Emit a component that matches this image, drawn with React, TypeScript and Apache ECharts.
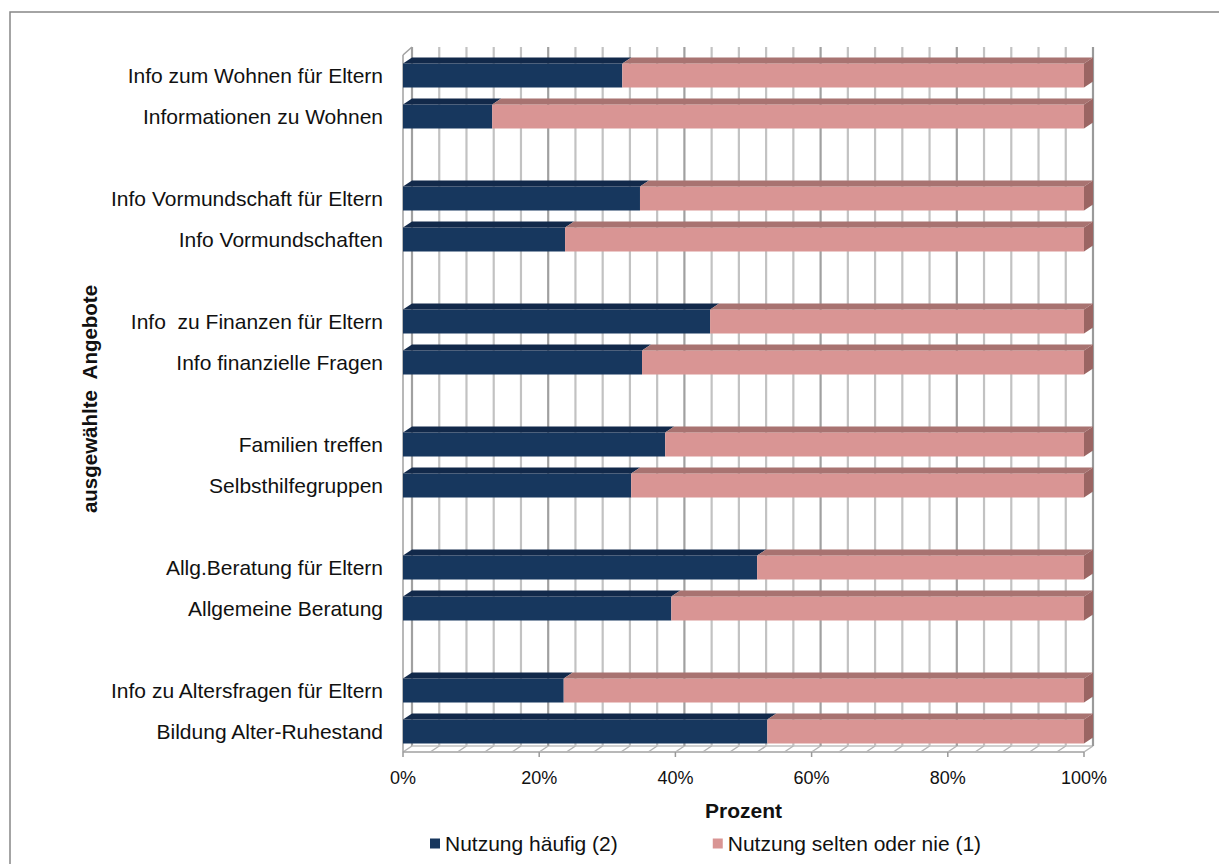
import React, { useEffect, useRef } from "react";
import * as echarts from "echarts";

// ---- data (top to bottom; "" = gap row) ----
const CATEGORIES: string[] = [
  "Info zum Wohnen für Eltern",
  "Informationen zu Wohnen",
  "",
  "Info Vormundschaft für Eltern",
  "Info Vormundschaften",
  "",
  "Info  zu Finanzen für Eltern",
  "Info finanzielle Fragen",
  "",
  "Familien treffen",
  "Selbsthilfegruppen",
  "",
  "Allg.Beratung für Eltern",
  "Allgemeine Beratung",
  "",
  "Info zu Altersfragen für Eltern",
  "Bildung Alter-Ruhestand",
];
const FREQUENT: (number | null)[] = [
  32.2, 13.1, null, 34.8, 23.8, null, 45.1, 35.1, null, 38.5, 33.5, null, 52.0, 39.4, null, 23.6, 53.5,
];
const RARE: (number | null)[] = [
  67.8, 86.9, null, 65.2, 76.2, null, 54.9, 64.9, null, 61.5, 66.5, null, 48.0, 60.6, null, 76.4, 46.5,
];
const TICKS: number[] = [0, 4, 8, 12, 16, 20, 24, 28, 32, 36, 40, 44, 48, 52, 56, 60, 64, 68, 72, 76, 80, 84, 88, 92, 96, 100];
const SERIES_NAMES = ["Nutzung häufig (2)", "Nutzung selten oder nie (1)"];
const X_TITLE = "Prozent";
const Y_TITLE = "ausgewählte  Angebote";

// ---- style ----
const FONT = "'Liberation Sans', Arial, sans-serif";
const NAVY = "#17375E";
const NAVY_TOP = "#12294A";
const PINK = "#D99594";
const PINK_TOP = "#A87371";
const PINK_SIDE = "#9B6563";
const DX = 9;
const DY = 6;
const BAR_H = 24;

export default function App() {
  const ref = useRef<HTMLDivElement>(null);
  useEffect(() => {
    if (!ref.current) return;
    const chart = echarts.init(ref.current, undefined, { renderer: "svg" });

    const faceData: any[] = [];
    CATEGORIES.forEach((_, i) => {
      if (FREQUENT[i] != null && RARE[i] != null) faceData.push([FREQUENT[i], i, RARE[i]]);
    });

    const option: any = {
      animation: false,
      backgroundColor: "#fff",
      textStyle: { fontFamily: FONT },
      grid: { left: 403, right: 135, top: 55, bottom: 112, containLabel: false },
      legend: {
        data: SERIES_NAMES,
        left: 425,
        top: 828,
        icon: "rect",
        itemWidth: 10,
        itemHeight: 10,
        itemGap: 95,
        textStyle: { fontSize: 21, color: "#111", fontFamily: FONT },
      },
      xAxis: {
        type: "value",
        min: 0,
        max: 100,
        interval: 4,
        splitLine: { show: false },
        axisLine: { show: false },
        axisTick: { show: false },
        axisLabel: {
          formatter: (v: number) => (v % 20 === 0 ? v + "%" : ""),
          fontSize: 18,
          color: "#111",
          margin: 17,
          fontFamily: FONT,
        },
        name: X_TITLE,
        nameLocation: "middle",
        nameGap: 48,
        nameTextStyle: { fontSize: 21, fontWeight: "bold", color: "#111", fontFamily: FONT },
      },
      yAxis: {
        type: "category",
        data: CATEGORIES,
        inverse: true,
        axisLine: { show: false },
        axisTick: { show: false },
        splitLine: { show: false },
        axisLabel: { fontSize: 21, color: "#111", margin: 20, fontFamily: FONT },
      },
      graphic: [
        {
          type: "rect",
          shape: { x: 10, y: 12, width: 1230, height: 900 },
          style: { fill: "none", stroke: "#878787", lineWidth: 1.5 },
          z: -10,
        },
        {
          type: "text",
          x: 89,
          y: 399,
          rotation: Math.PI / 2,
          style: {
            text: Y_TITLE,
            fontSize: 20.5,
            fontWeight: "bold",
            fontFamily: FONT,
            fill: "#111",
            align: "center",
            verticalAlign: "middle",
          },
        },
      ],
      series: [
        {
          type: "custom",
          name: "grid3d",
          z: 1,
          silent: true,
          clip: false,
          data: TICKS.map((v) => [v, 0]),
          encode: { x: 0, y: 1 },
          renderItem: (params: any, api: any) => {
            const cs = params.coordSys;
            const v = api.value(0);
            const x = api.coord([v, 0])[0];
            const top = cs.y;
            const bottom = cs.y + cs.height;
            const major = v % 20 === 0;
            const children: any[] = [];
            children.push({
              type: "line",
              shape: { x1: x + DX, y1: top - 8, x2: x + DX, y2: bottom - DY },
              style: { stroke: major ? "#A0A0A0" : "#C2C2C2", lineWidth: 2.2 },
            });
            children.push({
              type: "line",
              shape: { x1: x, y1: bottom, x2: x + DX, y2: bottom - DY },
              style: { stroke: "#B5B5B5", lineWidth: 1.5 },
            });
            if (major) {
              children.push({
                type: "line",
                shape: { x1: x, y1: bottom, x2: x, y2: bottom + 5 },
                style: { stroke: "#999", lineWidth: 1.5 },
              });
            }
            if (v === 0) {
              const right = cs.x + cs.width;
              children.push(
                { type: "line", shape: { x1: x, y1: top, x2: x, y2: bottom }, style: { stroke: "#A0A0A0", lineWidth: 1.5 } },
                { type: "line", shape: { x1: x, y1: top, x2: x + DX, y2: top - 8 }, style: { stroke: "#A0A0A0", lineWidth: 1.5 } },
                { type: "line", shape: { x1: cs.x, y1: bottom, x2: right, y2: bottom }, style: { stroke: "#A0A0A0", lineWidth: 1.5 } },
                { type: "line", shape: { x1: cs.x + DX, y1: bottom - DY, x2: right + DX, y2: bottom - DY }, style: { stroke: "#C0C0C0", lineWidth: 1.5 } }
              );
            }
            if (v === 100) {
              children.push({
                type: "line",
                shape: { x1: x + DX, y1: top - 8, x2: x + DX, y2: bottom - DY },
                style: { stroke: "#9A9A9A", lineWidth: 2 },
              });
            }
            return { type: "group", children };
          },
        },
        {
          type: "bar",
          name: SERIES_NAMES[0],
          stack: "total",
          barWidth: BAR_H,
          z: 2,
          itemStyle: { color: NAVY },
          data: FREQUENT,
        },
        {
          type: "bar",
          name: SERIES_NAMES[1],
          stack: "total",
          barWidth: BAR_H,
          z: 2,
          itemStyle: { color: PINK },
          data: RARE,
        },
        {
          type: "custom",
          name: "faces3d",
          z: 3,
          silent: true,
          clip: false,
          data: faceData,
          encode: { x: [0, 2], y: 1 },
          renderItem: (params: any, api: any) => {
            const f = api.value(0);
            const idx = api.value(1);
            const r = api.value(2);
            const p0 = api.coord([0, idx]);
            const p1 = api.coord([f, idx]);
            const p2 = api.coord([f + r, idx]);
            const yT = p0[1] - BAR_H / 2;
            const yB = yT + BAR_H;
            return {
              type: "group",
              children: [
                {
                  type: "polygon",
                  shape: { points: [[p0[0], yT], [p1[0], yT], [p1[0] + DX, yT - DY], [p0[0] + DX, yT - DY]] },
                  style: { fill: NAVY_TOP },
                },
                {
                  type: "polygon",
                  shape: { points: [[p1[0], yT], [p2[0], yT], [p2[0] + DX, yT - DY], [p1[0] + DX, yT - DY]] },
                  style: { fill: PINK_TOP },
                },
                {
                  type: "polygon",
                  shape: { points: [[p2[0], yT], [p2[0] + DX, yT - DY], [p2[0] + DX, yB - DY], [p2[0], yB]] },
                  style: { fill: PINK_SIDE },
                },
              ],
            };
          },
        },
      ],
    };
    chart.setOption(option);
    return () => chart.dispose();
  }, []);
  return (
    <div
      ref={ref}
      style={{ position: "fixed", left: 0, top: 0, width: 1219, height: 864, background: "#fff" }}
    />
  );
}
